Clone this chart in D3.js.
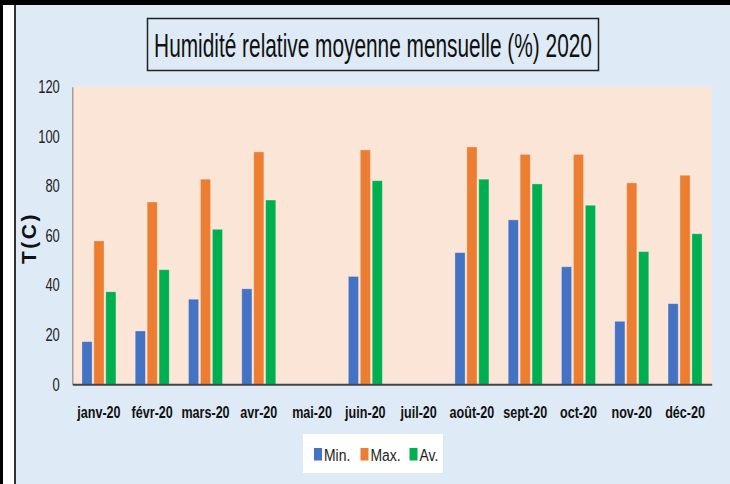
<!DOCTYPE html>
<html>
<head>
<meta charset="utf-8">
<script src="https://cdn.jsdelivr.net/npm/d3@7"></script>
<style>
	body{margin:0;padding:0;background:#fff;}
	svg{display:block;}
</style>
</head>
<body>
<div id="chart"></div>
<script>
// monthly values, mai and juil are missing
var months=["janv-20","févr-20","mars-20","avr-20","mai-20","juin-20","juil-20","août-20","sept-20","oct-20","nov-20","déc-20"];
var minVals=[17.2,21.5,34.3,38.5,null,43.5,null,53.1,66.3,47.4,25.4,32.5];
var maxVals=[57.8,73.5,82.7,93.7,null,94.5,null,95.7,92.7,92.7,81.2,84.3];
var avVals=[37.3,46.2,62.5,74.3,null,82.1,null,82.7,80.8,72.2,53.5,60.7];
var seriesNames=["Min.","Max.","Av."];
var yTicks=[0,20,40,60,80,100,120];

var colors={"Min.":"#4472C4","Max.":"#ED7D31","Av.":"#00B050"};
var font="'Liberation Sans',Arial,sans-serif";

var W=730,H=484;
var svg=d3.select("#chart").append("svg")
	.attr("width",W)
	.attr("height",H);

// the original font is a condensed one, so squeeze the text sideways
function squeeze(sel,sx,dx,dy){
	sel.attr("x",0).attr("transform","translate("+(dx||0)+","+(dy||0)+") scale("+sx+",1)");
}

// frame: black band on top, white strip + thin line on the left
svg.append("rect").attr("x",0).attr("y",0).attr("width",W).attr("height",H).style("fill","#000");
svg.append("rect").attr("x",3).attr("y",5).attr("width",W-3).attr("height",H-5).style("fill","#fff");
svg.append("rect").attr("x",14).attr("y",5).attr("width",W-14).attr("height",H-5).style("fill","#333");
svg.append("rect").attr("x",16).attr("y",5).attr("width",W-16).attr("height",H-5).style("fill","#DEEAF6");

// title in its box
svg.append("rect")
	.attr("x",147.5).attr("y",18.5)
	.attr("width",451).attr("height",52)
	.style("fill","#DEEAF6").style("stroke","#222").style("stroke-width",1.5);
var title=svg.append("text")
	.attr("text-anchor","middle")
	.style("font-family",font).style("font-size","34px").style("fill","#111")
	.text("Humidité relative moyenne mensuelle (%) 2020");
var tLen=title.node().getComputedTextLength();
squeeze(title,438/tLen,373,56.5);

var plot={left:72.3,right:711.7,top:86.7,bottom:384.3};

svg.append("rect")
	.attr("x",plot.left).attr("y",plot.top)
	.attr("width",plot.right-plot.left).attr("height",plot.bottom-plot.top)
	.style("fill","#FBE5D6");

var x0=d3.scaleBand().domain(months).range([plot.left,plot.right]).padding(0);
var groupW=34;
var x1=d3.scaleBand().domain(seriesNames)
	.range([(x0.bandwidth()-groupW)/2,(x0.bandwidth()+groupW)/2])
	.paddingInner(0.15);
var y=d3.scaleLinear().domain([0,120]).range([plot.bottom,plot.top]);

var rows=months.map(function(m,i){
	return {month:m,vals:[
		{name:"Min.",v:minVals[i]},
		{name:"Max.",v:maxVals[i]},
		{name:"Av.",v:avVals[i]}
	]};
});

var groups=svg.append("g").selectAll("g")
	.data(rows)
	.join("g")
	.attr("transform",function(d){return "translate("+x0(d.month)+",0)";});
groups.selectAll("rect")
	.data(function(d){return d.vals.filter(function(e){return e.v!=null;});})
	.join("rect")
	.attr("x",function(d){return x1(d.name);})
	.attr("y",function(d){return y(d.v);})
	.attr("width",x1.bandwidth())
	.attr("height",function(d){return plot.bottom-y(d.v);})
	.style("fill",function(d){return colors[d.name];})
	.style("stroke","#fff").style("stroke-opacity",0.35).style("stroke-width",0.8);

// y axis: gray line, no ticks
var yAxis=svg.append("g")
	.attr("transform","translate("+plot.left+",0)")
	.call(d3.axisLeft(y).tickValues(yTicks).tickSize(0));
yAxis.select(".domain").style("stroke","#8c8c8c").style("stroke-width",1.2);
yAxis.selectAll("text")
	.style("font-family",font).style("font-size","18px").style("fill","#222")
	.call(squeeze,0.72,-12.5,0);

// x axis
var xAxis=svg.append("g")
	.attr("transform","translate(0,"+plot.bottom+")")
	.call(d3.axisBottom(x0).tickSize(0).tickPadding(22));
xAxis.select(".domain").style("stroke","#444").style("stroke-width",2);
xAxis.selectAll("text")
	.style("font-family",font).style("font-size","17px").style("font-weight","bold").style("fill","#111")
	.call(squeeze,0.74,0,0);

// axis title
svg.append("text")
	.attr("transform","translate(36,238) rotate(-90)")
	.attr("text-anchor","middle")
	.style("font-family",font).style("font-size","21px")
	.style("font-weight","bold").style("letter-spacing","2.5px").style("fill","#111")
	.text("T(C)");

// legend in a white box
var legend=svg.append("g");
legend.append("rect")
	.attr("x",303).attr("y",434)
	.attr("width",140).attr("height",39)
	.style("fill","#fff");
var legX=[314,360.5,409.5];
var items=legend.selectAll("g.item")
	.data(seriesNames)
	.join("g").attr("class","item")
	.attr("transform",function(d,i){return "translate("+legX[i]+",448)";});
items.append("rect")
	.attr("width",8).attr("height",12.5)
	.style("fill",function(d){return colors[d];});
items.append("text")
	.attr("y",12.5)
	.style("font-family",font).style("font-size","17px").style("fill","#222")
	.text(function(d){return d;})
	.call(squeeze,0.82,10,0);
</script>
</body>
</html>
